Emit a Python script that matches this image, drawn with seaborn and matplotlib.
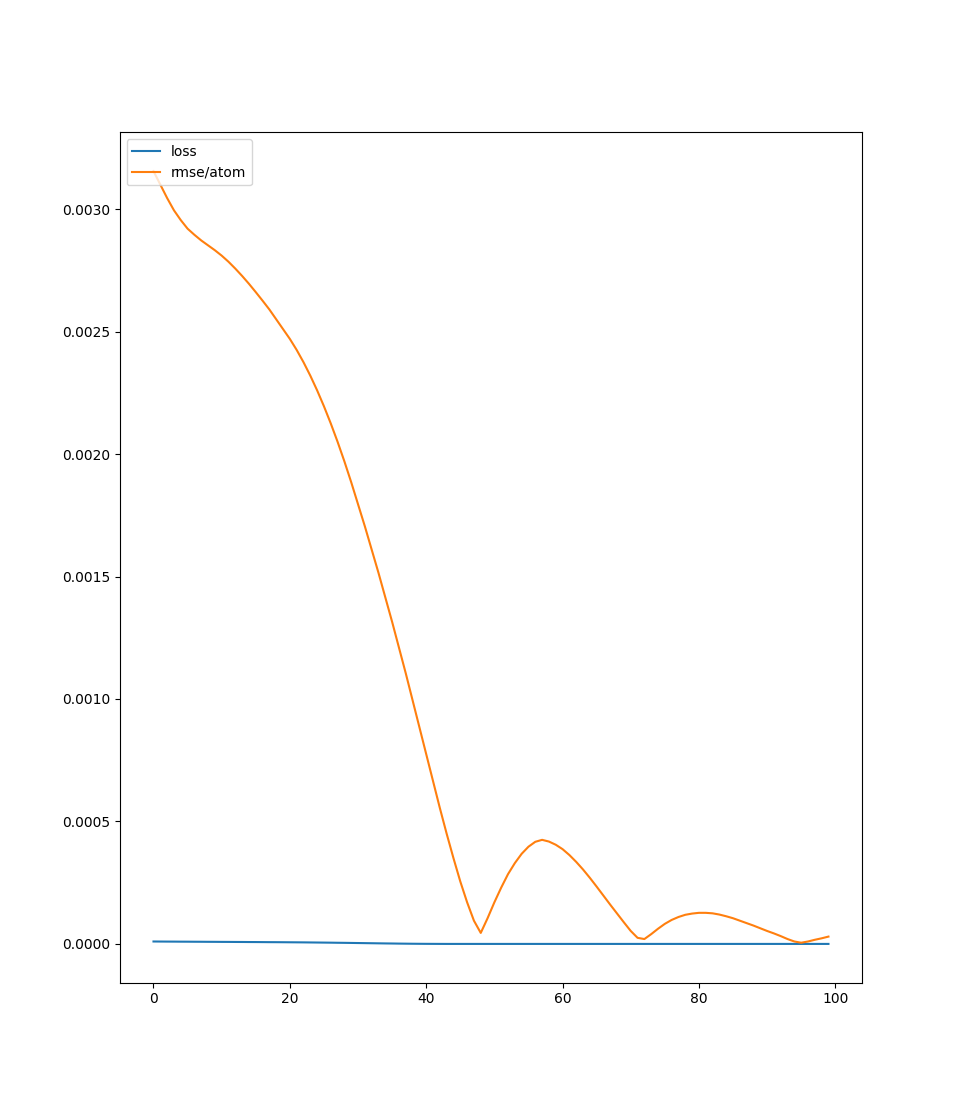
import numpy as np
import matplotlib
matplotlib.use("Agg")
import matplotlib.pyplot as plt
import seaborn as sns

# -------------------------
# Data
# -------------------------
epochs = list(range(100))

# loss, in units of 1e-5
loss_e5 = [
    1.00, 0.98, 0.96, 0.95, 0.93, 0.92, 0.90, 0.89, 0.87, 0.86,
    0.84, 0.83, 0.81, 0.80, 0.78, 0.77, 0.75, 0.73, 0.72, 0.70,
    0.68, 0.66, 0.64, 0.61, 0.58, 0.55, 0.52, 0.48, 0.45, 0.41,
    0.37, 0.33, 0.29, 0.25, 0.21, 0.18, 0.14, 0.11, 0.08, 0.06,
    0.04, 0.03, 0.02, 0.01, 0.01, 0.01, 0.01, 0.01, 0.01, 0.01,
    0.01, 0.01, 0.01, 0.01, 0.01, 0.01, 0.01, 0.01, 0.01, 0.01,
    0.01, 0.01, 0.01, 0.01, 0.01, 0.01, 0.01, 0.01, 0.01, 0.01,
    0.01, 0.01, 0.01, 0.01, 0.01, 0.01, 0.01, 0.01, 0.01, 0.01,
    0.01, 0.01, 0.01, 0.01, 0.01, 0.01, 0.01, 0.01, 0.01, 0.01,
    0.01, 0.01, 0.01, 0.01, 0.01, 0.01, 0.01, 0.01, 0.01, 0.01,
]

# rmse/atom, in units of 1e-4
rmse_e4 = [
    31.55, 31.00, 30.45, 29.95, 29.55, 29.20, 28.95, 28.72, 28.52, 28.32,
    28.10, 27.85, 27.57, 27.27, 26.95, 26.61, 26.26, 25.90, 25.50, 25.10,
    24.70, 24.25, 23.75, 23.20, 22.60, 21.95, 21.25, 20.50, 19.70, 18.85,
    17.95, 17.05, 16.10, 15.15, 14.15, 13.15, 12.10, 11.05, 9.95, 8.85,
    7.75, 6.65, 5.55, 4.50, 3.50, 2.55, 1.70, 0.95, 0.45, 1.05,
    1.70, 2.30, 2.85, 3.30, 3.68, 3.97, 4.17, 4.25, 4.18, 4.05,
    3.87, 3.63, 3.35, 3.04, 2.70, 2.34, 1.97, 1.60, 1.24, 0.88,
    0.53, 0.25, 0.20, 0.40, 0.62, 0.82, 0.98, 1.10, 1.19, 1.24,
    1.27, 1.27, 1.25, 1.20, 1.13, 1.05, 0.95, 0.85, 0.75, 0.64,
    0.53, 0.43, 0.32, 0.20, 0.10, 0.05, 0.10, 0.17, 0.23, 0.30,
]

loss = np.array(loss_e5) * 1e-5
rmse = np.array(rmse_e4) * 1e-4

# -------------------------
# Plot
# -------------------------
fig = plt.figure(figsize=(9.58, 11.04), dpi=100)
ax = fig.add_subplot(111)

sns.lineplot(x=epochs, y=loss, label="loss", ax=ax)
sns.lineplot(x=epochs, y=rmse, label="rmse/atom", ax=ax)

ax.legend(loc="upper left")

fig.savefig("out.png", dpi=100)
